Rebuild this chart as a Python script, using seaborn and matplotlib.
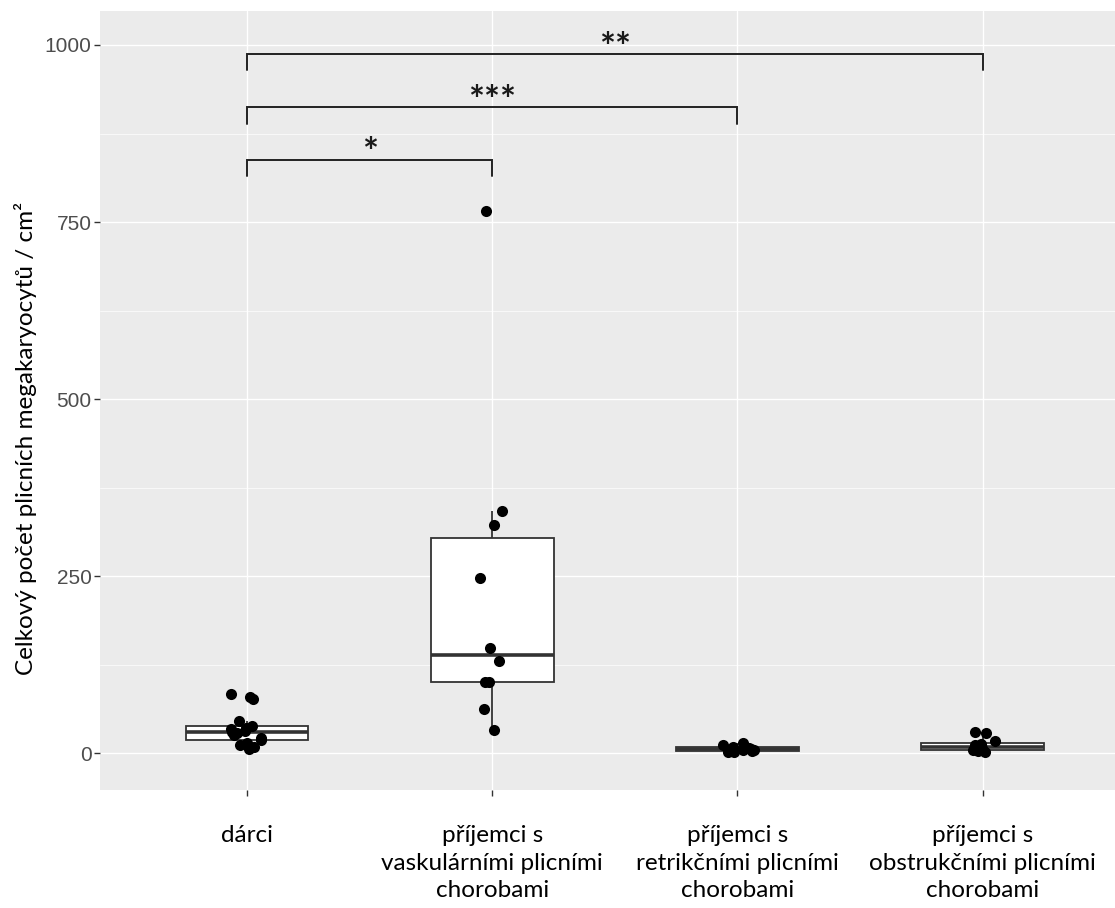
import numpy as np
import pandas as pd
import seaborn as sns
import matplotlib.pyplot as plt

# groups (x axis labels)
groups = ["dárci",
          "příjemci s\nvaskulárními plicními\nchorobami",
          "příjemci s\nretrikčními plicními\nchorobami",
          "příjemci s\nobstrukčními plicními\nchorobami"]

# values
darci = [6, 9, 12, 15, 18, 22, 25, 28, 30, 32, 34, 36, 38, 45, 76, 80, 84]
vaskularni = [33, 62, 100, 101, 130, 148, 248, 322, 342, 765]
retrikcni = [1, 2, 3, 4, 5, 6, 8, 9, 11, 15]
obstrukcni = [2, 3, 4, 6, 7, 9, 11, 13, 17, 29, 30]

# significance brackets: (from group, to group, height, label)
brackets = [(0, 1, 838, "*"), (0, 2, 912, "***"), (0, 3, 987, "**")]

df = pd.DataFrame({
    "skupina": [groups[0]] * len(darci) + [groups[1]] * len(vaskularni)
               + [groups[2]] * len(retrikcni) + [groups[3]] * len(obstrukcni),
    "pocet": darci + vaskularni + retrikcni + obstrukcni,
})

sns.set_theme(style="darkgrid", rc={"axes.facecolor": "#EBEBEB",
                                    "grid.color": "white"})
plt.rcParams["font.family"] = ["Lato", "DejaVu Sans"]

fig = plt.figure(figsize=(11.15, 9.08), dpi=100)
ax = fig.add_axes([100 / 1115, 118 / 908, 1 - 100 / 1115, (790 - 11) / 908])

sns.boxplot(x="skupina", y="pocet", data=df, order=groups, width=0.5,
            color="white", showfliers=False, showcaps=False, whis=1.5,
            boxprops=dict(facecolor="white", edgecolor="#333333", linewidth=1.3),
            whiskerprops=dict(color="#333333", linewidth=1.3),
            medianprops=dict(color="#333333", linewidth=2.6),
            ax=ax)
np.random.seed(3)
sns.stripplot(x="skupina", y="pocet", data=df, order=groups, color="black",
              size=8, jitter=0.07, ax=ax, zorder=5)

for a, b, h, lab in brackets:
    ax.plot([a, a, b, b], [h - 23, h, h, h - 23], color="#222222", lw=1.4,
            solid_joinstyle="miter")
    ax.text((a + b) / 2, h - 16, lab, ha="center", va="bottom",
            fontsize=27, fontweight="bold", color="#1a1a1a")

ax.set_xlim(-0.6, 3.54)
ax.set_ylim(-52, 1048)
ax.set_yticks([0, 250, 500, 750, 1000])
ax.set_yticks([125, 375, 625, 875], minor=True)
ax.grid(which="major", color="white", linewidth=1.0)
ax.grid(which="minor", color="white", linewidth=0.5)
for s in ax.spines.values():
    s.set_visible(False)

ax.tick_params(axis="both", which="major", length=4, width=1, color="#333333",
               bottom=True, left=True)
ax.tick_params(axis="both", which="minor", length=0)
for t in ax.get_yticklabels():
    t.set_fontfamily("Liberation Sans")
    t.set_fontsize(15)
    t.set_color("#4D4D4D")
for t in ax.get_xticklabels():
    t.set_fontsize(17.5)
    t.set_color("black")
    t.set_linespacing(1.4)
ax.tick_params(axis="x", pad=21)
ax.tick_params(axis="y", pad=2)

ax.set_xlabel("")
ax.set_ylabel("Celkový počet plicních megakaryocytů / cm²", fontsize=17.5,
              color="black")
ax.yaxis.set_label_coords(-0.062, 0.452)

fig.savefig("out.png", dpi=100)
